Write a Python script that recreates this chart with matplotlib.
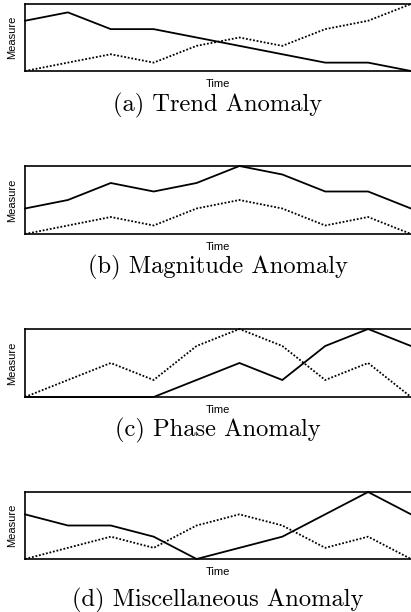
import matplotlib
matplotlib.use("Agg")
import matplotlib.pyplot as plt

################################################################################
# DONNÉES
################################################################################
time = [0, 1, 2, 3, 4, 5, 6, 7, 8, 9]

trend_solid = [6, 7, 5, 5, 4, 3, 2, 1, 1, 0]
trend_dotted = [0, 1, 2, 1, 3, 4, 3, 5, 6, 8]

magnitude_solid = [3, 4, 6, 5, 6, 8, 7, 5, 5, 3]
magnitude_dotted = [0, 1, 2, 1, 3, 4, 3, 1, 2, 0]

phase_solid = [0, 0, 0, 0, 2, 4, 2, 6, 8, 6]
phase_dotted = [0, 2, 4, 2, 6, 8, 6, 2, 4, 0]

misc_solid = [4, 3, 3, 2, 0, 1, 2, 4, 6, 4]
misc_dotted = [0, 1, 2, 1, 3, 4, 3, 1, 2, 0]

captions = ["(a) Trend Anomaly", "(b) Magnitude Anomaly",
            "(c) Phase Anomaly", "(d) Miscellaneous Anomaly"]
solids = [trend_solid, magnitude_solid, phase_solid, misc_solid]
dotteds = [trend_dotted, magnitude_dotted, phase_dotted, misc_dotted]
ymax = [8, 8, 8, 6]

################################################################################
# MISE EN PAGE (pixels -> fractions de la figure)
################################################################################
W, H = 411, 612
left_px, right_px = 25, 411
boxes = [(4, 71), (166, 234), (329, 397), (492, 559)]  # (haut, bas) en pixels
caption_gap = [34, 33, 33, 41]                         # centre légende sous l'axe

fig = plt.figure(figsize=(W / 100, H / 100), dpi=100)
PT = 0.72  # 1 pixel = 0.72 point à 100 dpi

for i, (top, bottom) in enumerate(boxes):
    ax = fig.add_axes([left_px / W, (H - bottom) / H,
                       (right_px - left_px) / W, (bottom - top) / H])
    ax.plot(time, solids[i], color="black", lw=1.3, clip_on=False)
    ax.plot(time, dotteds[i], color="black", lw=1.3, ls=(0, (1, 1)), clip_on=False)
    ax.set_xlim(0, 9)
    ax.set_ylim(0, ymax[i])
    ax.set_xticks([])
    ax.set_yticks([])
    for side in ["left", "top", "bottom"]:
        ax.spines[side].set_linewidth(1.2)
    ax.spines["right"].set_visible(False)

    # libellés des axes
    ax.annotate("Time", xy=(0.5, 0), xycoords="axes fraction",
                xytext=(0, -13 * PT), textcoords="offset points",
                ha="center", va="center", fontsize=8, family="Liberation Sans")
    ax.annotate("Measure", xy=(0, 0.5), xycoords="axes fraction",
                xytext=(-13 * PT, 0), textcoords="offset points",
                ha="center", va="center", rotation=90,
                fontsize=8, family="Liberation Sans")

    # légende sous-figure
    ax.annotate(captions[i], xy=(0.5, 0), xycoords="axes fraction",
                xytext=(0, -caption_gap[i] * PT), textcoords="offset points",
                ha="center", va="center", fontsize=17.6, family="cmr10")

fig.savefig("out.png", dpi=100)
